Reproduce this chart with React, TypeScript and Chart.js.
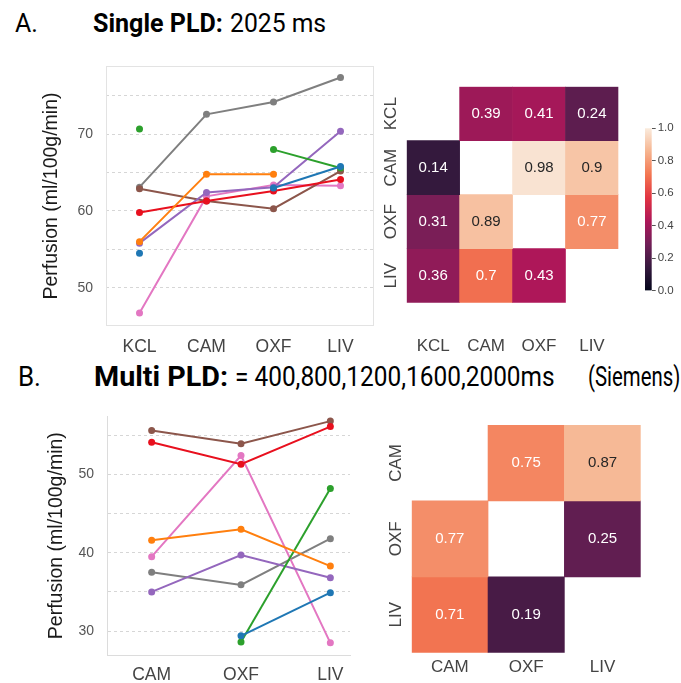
import React, { useEffect, useLayoutEffect, useRef } from 'react';
import { Chart, registerables } from 'chart.js';
Chart.register(...registerables);

const FONT = '"Liberation Sans", Arial, Helvetica, sans-serif';
const TITLE_FONT = 'Roboto, "Liberation Sans", sans-serif';

// ---------- data ----------
const sitesA = ['KCL', 'CAM', 'OXF', 'LIV'];
const sitesB = ['CAM', 'OXF', 'LIV'];

const seriesColors = ['#1f77b4', '#ff7f0e', '#2ca02c', '#e8101e', '#9467bd', '#8c564b', '#e377c2', '#7f7f7f'];

// Panel A: single PLD perfusion per subject (KCL, CAM, OXF, LIV)
const blueA = [54.5, null, 63.0, 65.8];
const orangeA = [56.0, 64.8, 64.8, null];
const greenA = [70.7, null, 68.0, 65.6];
const redA = [59.8, 61.3, 62.6, 64.1];
const purpleA = [55.8, 62.4, 63.1, 70.4];
const brownA = [62.9, 61.3, 60.3, 65.2];
const pinkA = [46.7, 61.9, 63.4, 63.3];
const grayA = [63.1, 72.6, 74.2, 77.4];
const seriesA = [blueA, orangeA, greenA, redA, purpleA, brownA, pinkA, grayA];

// Panel B: multi PLD perfusion per subject (CAM, OXF, LIV)
const blueB = [null, 29.4, 34.9];
const orangeB = [41.6, 43.0, 38.3];
const greenB = [null, 28.6, 48.2];
const redB = [54.1, 51.3, 56.1];
const purpleB = [35.0, 39.7, 36.8];
const brownB = [55.6, 53.9, 56.8];
const pinkB = [39.5, 52.4, 28.5];
const grayB = [37.5, 35.9, 41.8];
const seriesB = [blueB, orangeB, greenB, redB, purpleB, brownB, pinkB, grayB];

const yGridA = [50, 55, 60, 65, 70, 75];
const yLabelsA = [50, 60, 70];
const yGridB = [30, 35, 40, 45, 50, 55];
const yLabelsB = [30, 40, 50];

// Correlation matrices (rows = y labels, cols = x labels)
const corrA_KCL = [null, 0.39, 0.41, 0.24];
const corrA_CAM = [0.14, null, 0.98, 0.9];
const corrA_OXF = [0.31, 0.89, null, 0.77];
const corrA_LIV = [0.36, 0.7, 0.43, null];
const corrA = [corrA_KCL, corrA_CAM, corrA_OXF, corrA_LIV];

const corrB_CAM = [null, 0.75, 0.87];
const corrB_OXF = [0.77, null, 0.25];
const corrB_LIV = [0.71, 0.19, null];
const corrB = [corrB_CAM, corrB_OXF, corrB_LIV];

const colorbarTicks = [0, 0.2, 0.4, 0.6, 0.8, 1.0];

// rocket colormap stops
const rocketStops = ['#03051a', '#35193e', '#701f57', '#ad1759', '#e13342', '#f37651', '#f6b48f', '#faebdd'];

function hexToRgb(h: string) {
  const n = parseInt(h.slice(1), 16);
  return [(n >> 16) & 255, (n >> 8) & 255, n & 255];
}
function rocket(v: number) {
  const n = rocketStops.length - 1;
  const p = Math.max(0, Math.min(1, v)) * n;
  const i = Math.min(n - 1, Math.floor(p));
  const t = p - i;
  const a = hexToRgb(rocketStops[i]);
  const b = hexToRgb(rocketStops[i + 1]);
  const c = a.map((x, k) => Math.round(x + (b[k] - x) * t));
  return `rgb(${c[0]},${c[1]},${c[2]})`;
}

// ---------- plugins ----------
const boxPlugin = {
  id: 'boxPlugin',
  beforeDatasetsDraw(chart: any) {
    const { ctx, chartArea: a } = chart;
    ctx.save();
    ctx.strokeStyle = '#e3e3e3';
    ctx.lineWidth = 1;
    ctx.strokeRect(a.left + 0.5, a.top + 0.5, a.width - 1, a.height - 1);
    ctx.restore();
  },
};

const heatPlugin = {
  id: 'heatPlugin',
  afterDatasetsDraw(chart: any, _args: any, opts: any) {
    const ctx = chart.ctx;
    ctx.save();
    ctx.textAlign = 'center';
    ctx.textBaseline = 'middle';
    ctx.font = `15px ${FONT}`;
    chart.data.datasets.forEach((ds: any, di: number) => {
      const meta = chart.getDatasetMeta(di);
      meta.data.forEach((el: any, i: number) => {
        const v = ds.values[i];
        if (v == null) return;
        const p = el.getProps(['x', 'y', 'base'], true);
        ctx.fillStyle = v > 0.84 ? '#262626' : '#ffffff';
        ctx.fillText(String(v), p.x, (p.y + p.base) / 2);
      });
    });
    const ys = chart.scales.y;
    ctx.font = `17px ${FONT}`;
    ctx.fillStyle = '#444444';
    ys.ticks.forEach((t: any, i: number) => {
      const py = ys.getPixelForValue(t.value);
      ctx.save();
      ctx.translate(chart.chartArea.left - 15, py);
      ctx.rotate(-Math.PI / 2);
      ctx.fillText(opts.rows[i], 0, 0);
      ctx.restore();
    });
    ctx.restore();
  },
};

// ---------- configs ----------
function lineAConfig(): any {
  return {
    type: 'line',
    data: {
      labels: sitesA,
      datasets: seriesA.map((d, i) => ({
        data: d,
        borderColor: seriesColors[i],
        backgroundColor: seriesColors[i],
        pointBackgroundColor: seriesColors[i],
        pointBorderColor: seriesColors[i],
        borderWidth: 2,
        pointRadius: 3.5,
        pointBorderWidth: 0,
        spanGaps: false,
        tension: 0,
      })),
    },
    options: {
      responsive: false,
      animation: false,
      devicePixelRatio: 1,
      layout: { padding: { left: 0, right: 16, top: 26, bottom: 0 } },
      plugins: { legend: { display: false }, tooltip: { enabled: false } },
      scales: {
        x: {
          type: 'category',
          offset: true,
          grid: { display: false, drawTicks: false },
          border: { display: false },
          ticks: { color: '#444', font: { family: FONT, size: 17.5 }, padding: 11 },
          afterFit: (s: any) => { s.height = 44; },
        },
        y: {
          min: 45,
          max: 78.9,
          afterBuildTicks: (s: any) => { s.ticks = yGridA.map((v) => ({ value: v })); },
          afterFit: (s: any) => { s.width = 106; },
          grid: { color: '#d6d6d6', drawTicks: false, lineWidth: 1 },
          border: { display: false, dash: [3, 3] },
          ticks: {
            color: '#555',
            font: { family: FONT, size: 14 },
            padding: 13,
            callback: (v: any) => (yLabelsA.includes(v) ? String(v) : ''),
          },
          title: {
            display: true,
            text: 'Perfusion (ml/100g/min)',
            color: '#1a1a1a',
            font: { family: FONT, size: 19.5 },
            padding: { top: 40, bottom: 0 },
          },
        },
      },
    },
    plugins: [boxPlugin],
  };
}

function lineBConfig(): any {
  return {
    type: 'line',
    data: {
      datasets: seriesB.map((d, i) => ({
        data: d.map((y, k) => ({ x: k, y })),
        borderColor: seriesColors[i],
        backgroundColor: seriesColors[i],
        pointBackgroundColor: seriesColors[i],
        pointBorderColor: seriesColors[i],
        borderWidth: 2,
        pointRadius: 3.5,
        pointBorderWidth: 0,
        spanGaps: false,
        tension: 0,
      })),
    },
    options: {
      responsive: false,
      animation: false,
      devicePixelRatio: 1,
      layout: { padding: { left: 0, right: 40, top: 10, bottom: 0 } },
      plugins: { legend: { display: false }, tooltip: { enabled: false } },
      scales: {
        x: {
          type: 'linear',
          min: -0.5,
          max: 2.22,
          afterBuildTicks: (s: any) => { s.ticks = sitesB.map((_, k) => ({ value: k })); },
          grid: { display: false, drawTicks: false },
          border: { display: true, color: '#dcdcdc', width: 1 },
          ticks: {
            color: '#444',
            font: { family: FONT, size: 17.5 },
            padding: 10,
            callback: (v: any) => sitesB[v] ?? '',
          },
          afterFit: (s: any) => { s.height = 28; },
        },
        y: {
          min: 26.95,
          max: 57.4,
          afterBuildTicks: (s: any) => { s.ticks = yGridB.map((v) => ({ value: v })); },
          afterFit: (s: any) => { s.width = 107; },
          grid: { color: '#d6d6d6', drawTicks: false, lineWidth: 1 },
          border: { display: true, color: '#dcdcdc', width: 1, dash: [3, 3] },
          ticks: {
            color: '#555',
            font: { family: FONT, size: 14 },
            padding: 13,
            callback: (v: any) => (yLabelsB.includes(v) ? String(v) : ''),
          },
          title: {
            display: true,
            text: 'Perfusion (ml/100g/min)',
            color: '#1a1a1a',
            font: { family: FONT, size: 19.5 },
            padding: { top: 45, bottom: 0 },
          },
        },
      },
    },
  };
}

function heatConfig(sites: string[], mat: (number | null)[][], geom: any): any {
  return {
    type: 'bar',
    data: {
      labels: sites,
      datasets: mat.map((row, r) => ({
        values: row,
        data: row.map((v) => (v == null ? null : [r, r + 1])),
        backgroundColor: row.map((v) => (v == null ? 'rgba(0,0,0,0)' : rocket(v))),
        borderWidth: 0,
        grouped: false,
        barPercentage: 1,
        categoryPercentage: 1,
      })),
    },
    options: {
      responsive: false,
      animation: false,
      devicePixelRatio: 1,
      layout: { padding: { left: 0, right: geom.right, top: geom.top, bottom: 0 } },
      plugins: { legend: { display: false }, tooltip: { enabled: false }, heatPlugin: { rows: sites } },
      scales: {
        x: {
          type: 'category',
          grid: { display: false, drawTicks: false },
          border: { display: false },
          ticks: { color: '#444', font: { family: FONT, size: 17 }, padding: geom.xPad },
          afterFit: (s: any) => { s.height = geom.xHeight; },
        },
        y: {
          type: 'linear',
          min: 0,
          max: sites.length,
          reverse: true,
          afterBuildTicks: (s: any) => { s.ticks = sites.map((_, k) => ({ value: k + 0.5 })); },
          afterFit: (s: any) => { s.width = geom.yWidth; },
          grid: { display: false, drawTicks: false },
          border: { display: false },
          ticks: { display: false },
        },
      },
    },
    plugins: [heatPlugin],
  };
}

function colorbarConfig(): any {
  return {
    type: 'bar',
    data: {
      labels: [''],
      datasets: [
        {
          data: [[colorbarTicks[0], colorbarTicks[colorbarTicks.length - 1]]],
          backgroundColor: (c: any) => {
            const ch = c.chart;
            const ys = ch.scales.y;
            if (!ch.chartArea || !ys) return '#000';
            const g = ch.ctx.createLinearGradient(0, ys.getPixelForValue(0), 0, ys.getPixelForValue(1));
            rocketStops.forEach((col, i) => g.addColorStop(i / (rocketStops.length - 1), col));
            return g;
          },
          borderWidth: 0,
          barPercentage: 1,
          categoryPercentage: 1,
        },
      ],
    },
    options: {
      responsive: false,
      animation: false,
      devicePixelRatio: 1,
      layout: { padding: { left: 15, right: 0, top: 13.3, bottom: 14.3 } },
      plugins: { legend: { display: false }, tooltip: { enabled: false } },
      scales: {
        x: { display: false },
        y: {
          position: 'right',
          min: 0,
          max: 1,
          afterBuildTicks: (s: any) => { s.ticks = colorbarTicks.map((v) => ({ value: v })); },
          afterFit: (s: any) => { s.width = 29.3; },
          grid: { drawOnChartArea: false, drawTicks: true, tickLength: 4, color: '#555', tickWidth: 1 },
          border: { display: false },
          ticks: { color: '#444', font: { family: FONT, size: 11.5 }, padding: 2, callback: (v: any) => Number(v).toFixed(1) },
        },
      },
    },
  };
}

// ---------- components ----------
function ChartCanvas({ make, left, top, width, height }: any) {
  const ref = useRef<HTMLCanvasElement>(null);
  useEffect(() => {
    const chart = new Chart(ref.current as HTMLCanvasElement, make());
    return () => chart.destroy();
  }, []);
  return (
    <canvas
      ref={ref}
      width={width}
      height={height}
      style={{ position: 'absolute', left, top, width, height }}
    />
  );
}

function FitText({ left, top, width, bold, size, children }: any) {
  const ref = useRef<HTMLDivElement>(null);
  useLayoutEffect(() => {
    const el = ref.current as HTMLDivElement;
    const fit = () => {
      el.style.transform = 'none';
      const w = el.offsetWidth;
      if (w > 0) el.style.transform = `scaleX(${width / w})`;
    };
    fit();
    const f: any = (document as any).fonts;
    if (f && f.ready) f.ready.then(fit);
  }, []);
  const fs = size || 26;
  return (
    <div
      ref={ref}
      style={{
        position: 'absolute',
        left,
        top,
        fontFamily: TITLE_FONT,
        fontSize: fs,
        lineHeight: `${fs}px`,
        fontWeight: bold ? 700 : 400,
        color: '#000',
        whiteSpace: 'nowrap',
        transformOrigin: '0 0',
      }}
    >
      {children}
    </div>
  );
}

export default function App() {
  return (
    <div style={{ position: 'fixed', left: 0, top: 0, width: 681, height: 683, background: '#fff', overflow: 'hidden' }}>
      <FitText left={15} top={10} width={23}>A.</FitText>
      <FitText left={93} top={10} width={130} bold>Single PLD:</FitText>
      <FitText left={230} top={10} width={96}>2025 ms</FitText>
      <FitText left={18} top={364} width={23} size={27}>B.</FitText>
      <FitText left={94} top={364} width={134} size={27} bold>Multi PLD:</FitText>
      <FitText left={235} top={364} width={320} size={27}>= 400,800,1200,1600,2000ms</FitText>
      <FitText left={588} top={364} width={92} size={27}>(Siemens)</FitText>

      <ChartCanvas make={lineAConfig} left={0} top={40} width={390} height={330} />
      <ChartCanvas make={lineBConfig} left={0} top={395} width={390} height={288} />
      <ChartCanvas
        make={() => heatConfig(sitesA, corrA, { right: 18.3, top: 16.7, xPad: 33, xHeight: 57.3, yWidth: 26.7 })}
        left={380}
        top={70}
        width={260}
        height={290}
      />
      <ChartCanvas make={colorbarConfig} left={630} top={115} width={51} height={190} />
      <ChartCanvas
        make={() => heatConfig(sitesB, corrB, { right: 29.3, top: 25, xPad: 4, xHeight: 30.3, yWidth: 31.7 })}
        left={380}
        top={400}
        width={290}
        height={283}
      />
    </div>
  );
}
